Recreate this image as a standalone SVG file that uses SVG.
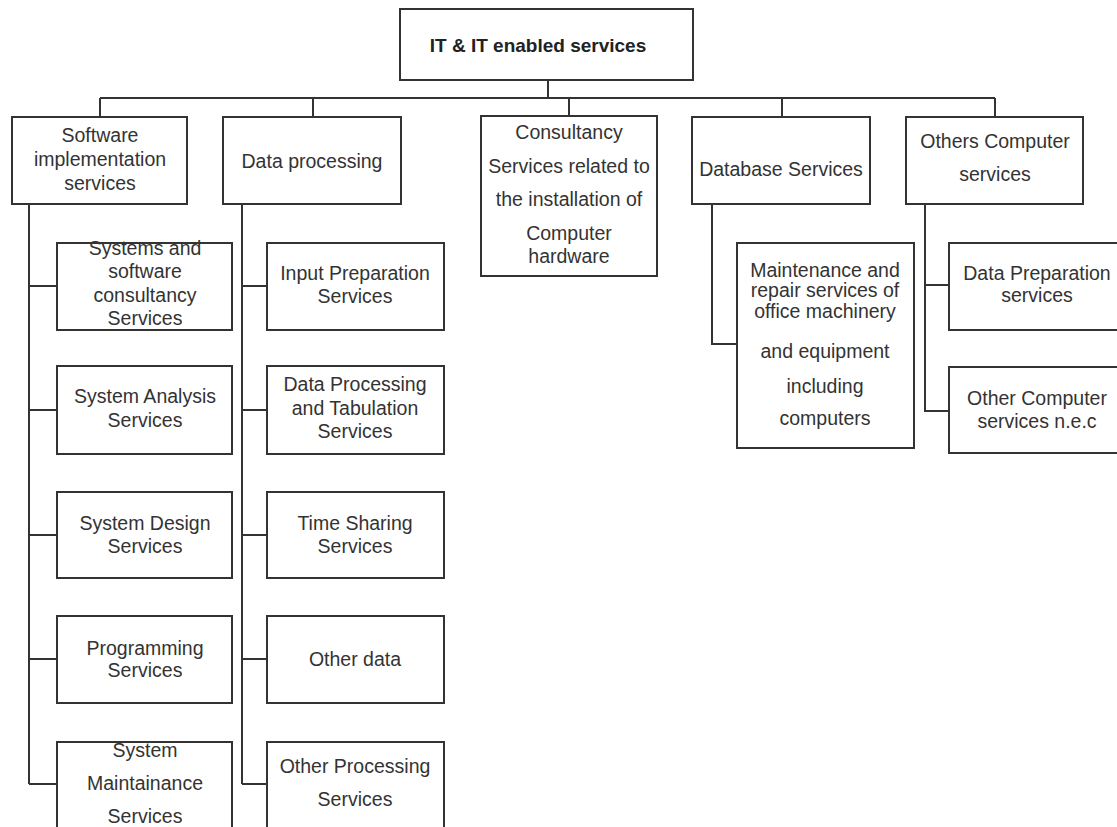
<svg xmlns="http://www.w3.org/2000/svg" width="1117" height="827" viewBox="0 0 1117 827">
  <style>
    .box { fill: #ffffff; stroke: #333333; stroke-width: 2; }
    .wire { fill: none; stroke: #333333; stroke-width: 2; }
    text { font-family: "Liberation Sans", Arial, sans-serif; font-size: 19.5px; fill: #333333; text-anchor: middle; }
    .title { font-weight: bold; font-size: 19px; fill: #222222; }
  </style>
  <rect width="1117" height="827" fill="#ffffff"/>

  <!-- connectors -->
  <g id="connectors" class="wire">
    <path d="M548 80 V98"/>
    <path d="M100 98 H995"/>
    <path d="M100 98 V117"/>
    <path d="M313 98 V117"/>
    <path d="M569 98 V116"/>
    <path d="M782 98 V117"/>
    <path d="M995 98 V117"/>
    <!-- software implementation branch -->
    <path d="M29 204 V784"/>
    <path d="M29 286 H57 M29 410 H57 M29 535 H57 M29 659 H57 M29 784 H57"/>
    <!-- data processing branch -->
    <path d="M242 204 V784"/>
    <path d="M242 286 H267 M242 410 H267 M242 535 H267 M242 659 H267 M242 784 H267"/>
    <!-- database branch -->
    <path d="M712 204 V344 H737"/>
    <!-- other computer services branch -->
    <path d="M925 204 V411 H949 M925 285 H949"/>
  </g>

  <g id="root">
    <rect class="box" x="400" y="9" width="293" height="71"/>
    <text class="title" x="538" y="52">IT &amp; IT enabled services</text>
  </g>

  <g id="software">
    <rect class="box" x="12" y="117" width="175" height="87"/>
    <text x="100" y="142">Software</text>
    <text x="100" y="166">implementation</text>
    <text x="100" y="190">services</text>
  </g>
  <g id="dataproc">
    <rect class="box" x="223" y="117" width="178" height="87"/>
    <text x="312" y="168">Data processing</text>
  </g>
  <g id="consultancy">
    <rect class="box" x="481" y="116" width="176" height="160"/>
    <text x="569" y="139">Consultancy</text>
    <text x="569" y="173">Services related to</text>
    <text x="569" y="206">the installation of</text>
    <text x="569" y="240">Computer</text>
    <text x="569" y="263">hardware</text>
  </g>
  <g id="database">
    <rect class="box" x="692" y="117" width="178" height="87"/>
    <text x="781" y="176">Database Services</text>
  </g>
  <g id="others">
    <rect class="box" x="906" y="117" width="177" height="87"/>
    <text x="995" y="148">Others Computer</text>
    <text x="995" y="181">services</text>
  </g>

  <!-- software implementation children -->
  <g id="sw1">
    <rect class="box" x="57" y="243" width="175" height="87"/>
    <text x="145" y="255">Systems and</text>
    <text x="145" y="278">software</text>
    <text x="145" y="302">consultancy</text>
    <text x="145" y="325">Services</text>
  </g>
  <g id="sw2">
    <rect class="box" x="57" y="366" width="175" height="88"/>
    <text x="145" y="403">System Analysis</text>
    <text x="145" y="427">Services</text>
  </g>
  <g id="sw3">
    <rect class="box" x="57" y="492" width="175" height="86"/>
    <text x="145" y="530">System Design</text>
    <text x="145" y="553">Services</text>
  </g>
  <g id="sw4">
    <rect class="box" x="57" y="616" width="175" height="87"/>
    <text x="145" y="655">Programming</text>
    <text x="145" y="677">Services</text>
  </g>
  <g id="sw5">
    <rect class="box" x="57" y="742" width="175" height="100"/>
    <text x="145" y="757">System</text>
    <text x="145" y="790">Maintainance</text>
    <text x="145" y="823">Services</text>
  </g>

  <!-- data processing children -->
  <g id="dp1">
    <rect class="box" x="267" y="243" width="177" height="87"/>
    <text x="355" y="280">Input Preparation</text>
    <text x="355" y="303">Services</text>
  </g>
  <g id="dp2">
    <rect class="box" x="267" y="366" width="177" height="88"/>
    <text x="355" y="391">Data Processing</text>
    <text x="355" y="415">and Tabulation</text>
    <text x="355" y="438">Services</text>
  </g>
  <g id="dp3">
    <rect class="box" x="267" y="492" width="177" height="86"/>
    <text x="355" y="530">Time Sharing</text>
    <text x="355" y="553">Services</text>
  </g>
  <g id="dp4">
    <rect class="box" x="267" y="616" width="177" height="87"/>
    <text x="355" y="666">Other data</text>
  </g>
  <g id="dp5">
    <rect class="box" x="267" y="742" width="177" height="100"/>
    <text x="355" y="773">Other Processing</text>
    <text x="355" y="806">Services</text>
  </g>

  <!-- database child -->
  <g id="db1">
    <rect class="box" x="737" y="243" width="177" height="205"/>
    <text x="825" y="277">Maintenance and</text>
    <text x="825" y="297">repair services of</text>
    <text x="825" y="318">office machinery</text>
    <text x="825" y="358">and equipment</text>
    <text x="825" y="393">including</text>
    <text x="825" y="425">computers</text>
  </g>

  <!-- other computer services children -->
  <g id="oc1">
    <rect class="box" x="949" y="243" width="177" height="87"/>
    <text x="1037" y="280">Data  Preparation</text>
    <text x="1037" y="302">services</text>
  </g>
  <g id="oc2">
    <rect class="box" x="949" y="367" width="177" height="86"/>
    <text x="1037" y="405">Other Computer</text>
    <text x="1037" y="428">services n.e.c</text>
  </g>
</svg>
